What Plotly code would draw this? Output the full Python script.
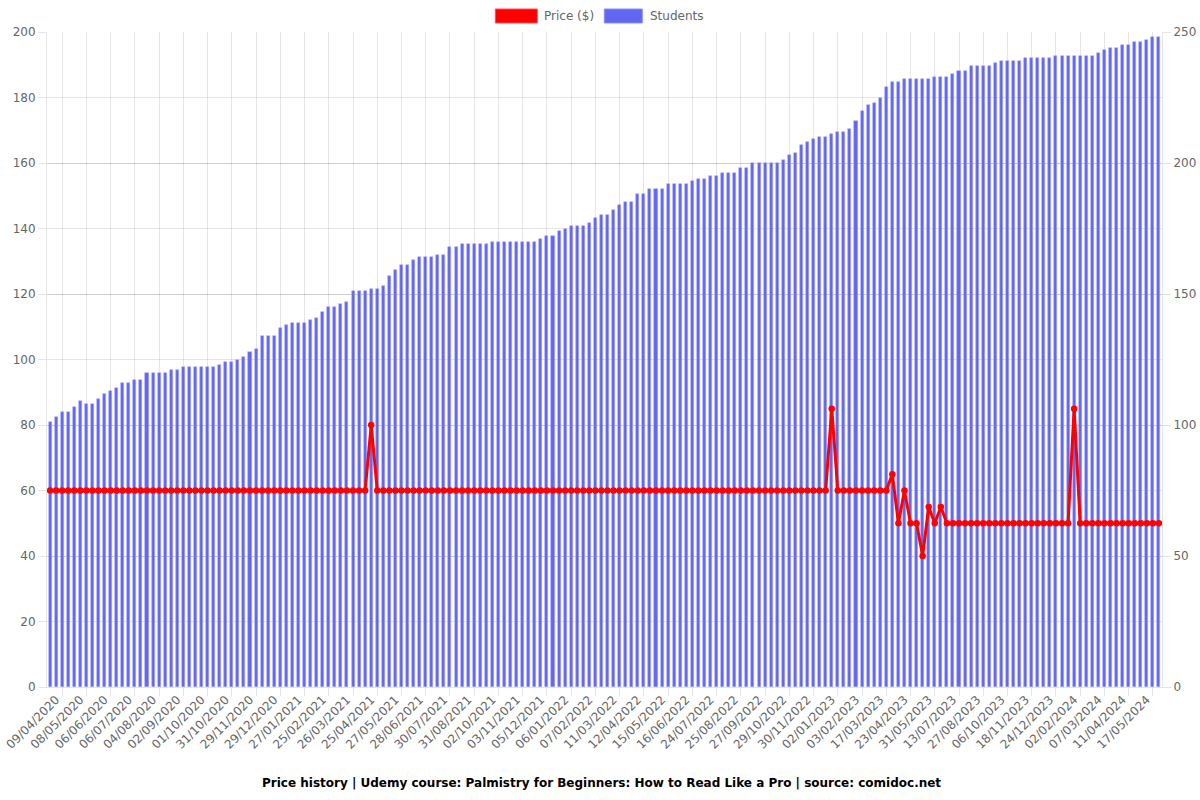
import plotly.graph_objects as go

tick_labels = [
    "09/04/2020", "08/05/2020", "06/06/2020", "06/07/2020", "04/08/2020", "02/09/2020",
    "01/10/2020", "31/10/2020", "29/11/2020", "29/12/2020", "27/01/2021", "25/02/2021",
    "26/03/2021", "25/04/2021", "27/05/2021", "28/06/2021", "30/07/2021", "31/08/2021",
    "02/10/2021", "03/11/2021", "05/12/2021", "06/01/2022", "07/02/2022", "11/03/2022",
    "12/04/2022", "15/05/2022", "16/06/2022", "24/07/2022", "25/08/2022", "27/09/2022",
    "29/10/2022", "30/11/2022", "02/01/2023", "03/02/2023", "17/03/2023", "23/04/2023",
    "31/05/2023", "13/07/2023", "27/08/2023", "06/10/2023", "18/11/2023", "24/12/2023",
    "02/02/2024", "07/03/2024", "11/04/2024", "17/05/2024",
]

students = [
    101, 103, 105, 105, 107, 109, 108, 108, 110, 112, 113, 114, 116, 116, 117, 117, 120, 120, 120, 120,
    121, 121, 122, 122, 122, 122, 122, 122, 123, 124, 124, 125, 126, 128, 129,
    134, 134, 134, 137, 138, 139, 139, 139, 140, 141, 143, 145,
    145, 146, 147, 151, 151, 151, 152, 152, 153, 157, 159, 161, 161, 163, 164, 164, 164, 165, 165,
    168, 168, 169, 169, 169, 169, 169, 170, 170, 170, 170, 170, 170, 170, 170,
    171, 172, 172, 174, 175, 176, 176, 176, 177, 179, 180, 180, 182,
    184, 185, 185, 188, 188, 190, 190, 190, 192, 192, 192, 192, 193, 194, 194, 195, 195, 196, 196, 196,
    198, 198, 200, 200, 200, 200, 200, 201, 203, 204, 207, 208, 209, 210, 210, 211, 212, 212,
    213, 216,
    220, 222, 223, 225, 229, 231, 231, 232, 232, 232, 232, 232, 233, 233, 233, 234, 235, 235, 237, 237,
    237, 237, 238, 239, 239, 239, 239, 240, 240, 240, 240, 240, 241, 241, 241, 241, 241, 241, 241, 242,
    243, 244, 244, 245, 245, 246, 246, 247, 248, 248,
]

price = [
    60, 60, 60, 60, 60, 60, 60, 60, 60, 60, 60, 60, 60, 60, 60, 60, 60, 60, 60, 60,
    60, 60, 60, 60, 60, 60, 60, 60, 60, 60, 60, 60, 60, 60, 60, 60, 60, 60, 60, 60,
    60, 60, 60, 60, 60, 60, 60, 60, 60, 60, 60, 60, 60, 80, 60, 60, 60, 60, 60, 60,
    60, 60, 60, 60, 60, 60, 60, 60, 60, 60, 60, 60, 60, 60, 60, 60, 60, 60, 60, 60,
    60, 60, 60, 60, 60, 60, 60, 60, 60, 60, 60, 60, 60, 60, 60, 60, 60, 60, 60, 60,
    60, 60, 60, 60, 60, 60, 60, 60, 60, 60, 60, 60, 60, 60, 60, 60, 60, 60, 60, 60,
    60, 60, 60, 60, 60, 60, 60, 60, 60, 85, 60, 60, 60, 60, 60, 60, 60, 60, 60, 65,
    50, 60, 50, 50, 40, 55, 50, 55, 50, 50, 50, 50, 50, 50, 50, 50, 50, 50, 50, 50,
    50, 50, 50, 50, 50, 50, 50, 50, 50, 85, 50, 50, 50, 50, 50, 50, 50, 50, 50, 50,
    50, 50, 50, 50,
]

series_names = ["Price ($)", "Students"]
PRICE_COLOR = "#ff0000"
STUDENT_COLOR = "#6366f1"

n = len(students)
idx = list(range(n))
label_pos = idx[::4][:len(tick_labels)]
grid_pos = [p + 2 for p in label_pos]

GRID = "rgba(0,0,0,0.1)"
TXT = "#666666"
FONT = "DejaVu Sans"

W, H = 1200, 800
# plot area in window pixels
PL, PR, PT, PB = 46.6, 1161.8, 32, 687
ML, MR, MT, MB = PL, W - PR, PT, H - PB
PW = PR - PL
PH = PB - PT


def px_x(px):
    return (px - PL) / PW


def px_y(py):
    return (PB - py) / PH


fig = go.Figure()

fig.add_trace(go.Bar(
    x=idx, y=students, name=series_names[1], yaxis="y",
    marker=dict(color=STUDENT_COLOR, line=dict(color="rgba(165,168,247,0.9)", width=0.6)),
    width=0.5, showlegend=False,
))
fig.add_trace(go.Scatter(
    x=idx, y=price, name=series_names[0], yaxis="y2", mode="lines+markers",
    line=dict(color=PRICE_COLOR, width=3), marker=dict(color=PRICE_COLOR, size=6.5),
    showlegend=False,
))

# legend drawn as boxes like the reference
shapes = [
    dict(type="rect", xref="paper", yref="paper", x0=px_x(495), x1=px_x(537),
         y0=px_y(23), y1=px_y(9), fillcolor=PRICE_COLOR, line=dict(color="rgba(255,80,80,1)", width=1)),
    dict(type="rect", xref="paper", yref="paper", x0=px_x(604), x1=px_x(642),
         y0=px_y(23), y1=px_y(9), fillcolor=STUDENT_COLOR, line=dict(color="rgba(140,143,245,1)", width=1)),
]
annotations = [
    dict(text=series_names[0], xref="paper", yref="paper", x=px_x(542), y=px_y(16),
         xanchor="left", yanchor="middle", showarrow=False,
         font=dict(family=FONT, size=12, color=TXT)),
    dict(text=series_names[1], xref="paper", yref="paper", x=px_x(648), y=px_y(16),
         xanchor="left", yanchor="middle", showarrow=False,
         font=dict(family=FONT, size=12, color=TXT)),
    dict(text="<b>Price history | Udemy course: Palmistry for Beginners: How to Read Like a Pro | source: comidoc.net</b>",
         xref="paper", yref="paper", x=px_x(601), y=px_y(783), xanchor="center", yanchor="middle",
         showarrow=False, font=dict(family=FONT, size=12, color="#000000")),
]

fig.update_layout(
    width=W, height=H,
    margin=dict(l=ML, r=MR, t=MT, b=MB, autoexpand=False),
    paper_bgcolor="white", plot_bgcolor="white",
    font=dict(family=FONT, size=12, color=TXT),
    bargap=0, barmode="overlay",
    showlegend=False,
    shapes=shapes,
    annotations=annotations,
    xaxis=dict(
        range=[-0.5, n - 0.5], tickmode="array", tickvals=label_pos, ticktext=tick_labels,
        tickangle=-45, showgrid=False, ticks="", zeroline=False, automargin=False,
        ticklabeloverflow="allow", ticklabelshift=6,
        showline=True, linecolor=GRID, linewidth=1,
        tickfont=dict(family=FONT, size=12, color=TXT),
        minor=dict(tickmode="array", tickvals=grid_pos, showgrid=True, gridcolor=GRID,
                   gridwidth=1, ticks="outside", ticklen=8, tickcolor=GRID),
    ),
    yaxis=dict(
        side="right", range=[0, 250], tickvals=[0, 50, 100, 150, 200, 250],
        showgrid=True, gridcolor=GRID, zeroline=False, ticks="outside", ticklen=8,
        tickcolor=GRID, showline=True, linecolor=GRID, automargin=False,
        ticklabeloverflow="allow",
        tickfont=dict(family=FONT, size=12, color=TXT),
    ),
    yaxis2=dict(
        overlaying="y", side="left", range=[0, 200],
        tickvals=[0, 20, 40, 60, 80, 100, 120, 140, 160, 180, 200],
        showgrid=True, gridcolor=GRID, zeroline=False, ticks="outside", ticklen=8,
        tickcolor=GRID, showline=True, linecolor=GRID, automargin=False,
        ticklabeloverflow="allow",
        tickfont=dict(family=FONT, size=12, color=TXT),
    ),
)

fig.write_html(
    "out.html",
    config={"displayModeBar": False},
    post_script="document.body.style.margin='0';document.body.style.overflow='hidden';",
)
